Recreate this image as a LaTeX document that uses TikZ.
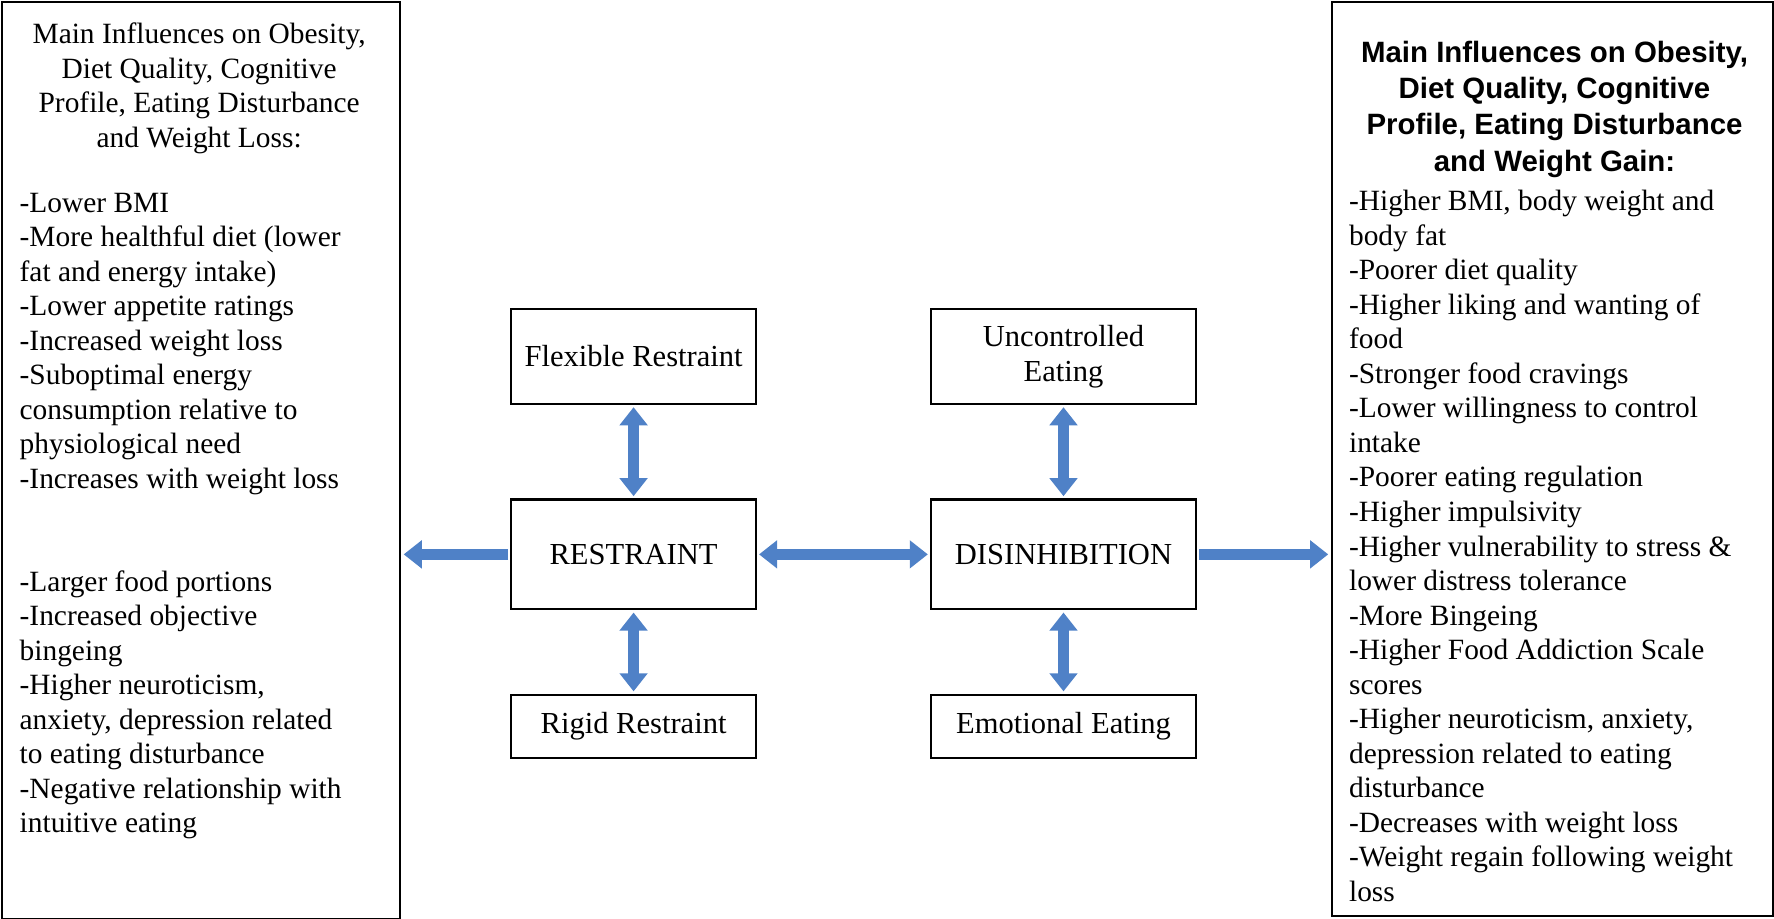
\documentclass[tikz,border=0pt]{standalone}
\usepackage{fontspec}
\setmainfont{Liberation Serif}
\newfontfamily\hdfont{Liberation Sans}
\usetikzlibrary{arrows.meta}
\begin{document}
\begin{tikzpicture}[x=0.5pt,y=-0.5pt,
  box/.style={draw,line width=0.9pt,inner sep=0pt,font=\fontsize{13.5}{15.5}\selectfont},
  txt/.style={inner sep=0pt,font=\fontsize{13}{15.25}\selectfont,align=left,anchor=north west},
  barrow/.style={line width=5pt,color={rgb,255:red,79;green,129;blue,199},
    {Triangle[length=8pt,width=12pt]}-{Triangle[length=8pt,width=12pt]},shorten <=1pt,shorten >=1pt}]
\useasboundingbox (0,0) rectangle (1568,812);
\node[draw,line width=0.9pt,minimum width=352pt/2,minimum height=810pt/2,anchor=north west] (L) at (1,1) {};
\node[draw,line width=0.9pt,minimum width=390pt/2,minimum height=808pt/2,anchor=north west] (R) at (1176,1) {};
\node[txt,align=center,anchor=north] (lh) at (176,20) {Main Influences on Obesity,\\Diet Quality, Cognitive\\Profile, Eating Disturbance\\and Weight Loss:};
\node[txt] (l1) at (17,170) {-Lower BMI\\-More healthful diet (lower\\fat and energy intake)\\-Lower appetite ratings\\-Increased weight loss\\-Suboptimal energy\\consumption relative to\\physiological need\\-Increases with weight loss};
\node[txt] (l2) at (17,504) {-Larger food portions\\-Increased objective\\bingeing\\-Higher neuroticism,\\anxiety, depression related\\to eating disturbance\\-Negative relationship with\\intuitive eating};
\node[txt,align=center,anchor=north,font=\hdfont\bfseries\fontsize{13}{16}\selectfont] (rh) at (1374,36) {Main Influences on Obesity,\\Diet Quality, Cognitive\\Profile, Eating Disturbance\\and Weight Gain:};
\node[txt] (r1) at (1192,168) {-Higher BMI, body weight and\\body fat\\-Poorer diet quality\\-Higher liking and wanting of\\food\\-Stronger food cravings\\-Lower willingness to control\\intake\\-Poorer eating regulation\\-Higher impulsivity\\-Higher vulnerability to stress \&\\lower distress tolerance\\-More Bingeing\\-Higher Food Addiction Scale\\scores\\-Higher neuroticism, anxiety,\\depression related to eating\\disturbance\\-Decreases with weight loss\\-Weight regain following weight\\loss};
\node[box,minimum width=216pt/2,minimum height=84pt/2] (fr) at (560,315) {Flexible Restraint};
\node[box,minimum width=234pt/2,minimum height=84pt/2,align=center] (ue) at (940,315) {Uncontrolled\\Eating};
\node[box,minimum width=216pt/2,minimum height=97pt/2] (res) at (560,490) {RESTRAINT};
\node[box,minimum width=234pt/2,minimum height=97pt/2] (dis) at (940,490) {DISINHIBITION};
\node[box,minimum width=216pt/2,minimum height=56pt/2] (rr) at (560,642) {Rigid Restraint};
\node[box,minimum width=234pt/2,minimum height=56pt/2] (ee) at (940,642) {Emotional Eating};
\draw[barrow] (fr.south) -- (res.north);
\draw[barrow] (res.south) -- (rr.north);
\draw[barrow] (ue.south) -- (dis.north);
\draw[barrow] (dis.south) -- (ee.north);
\draw[barrow] (res.east) -- (dis.west);
\draw[barrow,-{Triangle[length=8pt,width=12pt]}] (res.west) -- (L.east |- res.west);
\draw[barrow,-{Triangle[length=8pt,width=12pt]}] (dis.east) -- (R.west |- dis.east);
\end{tikzpicture}
\end{document}
